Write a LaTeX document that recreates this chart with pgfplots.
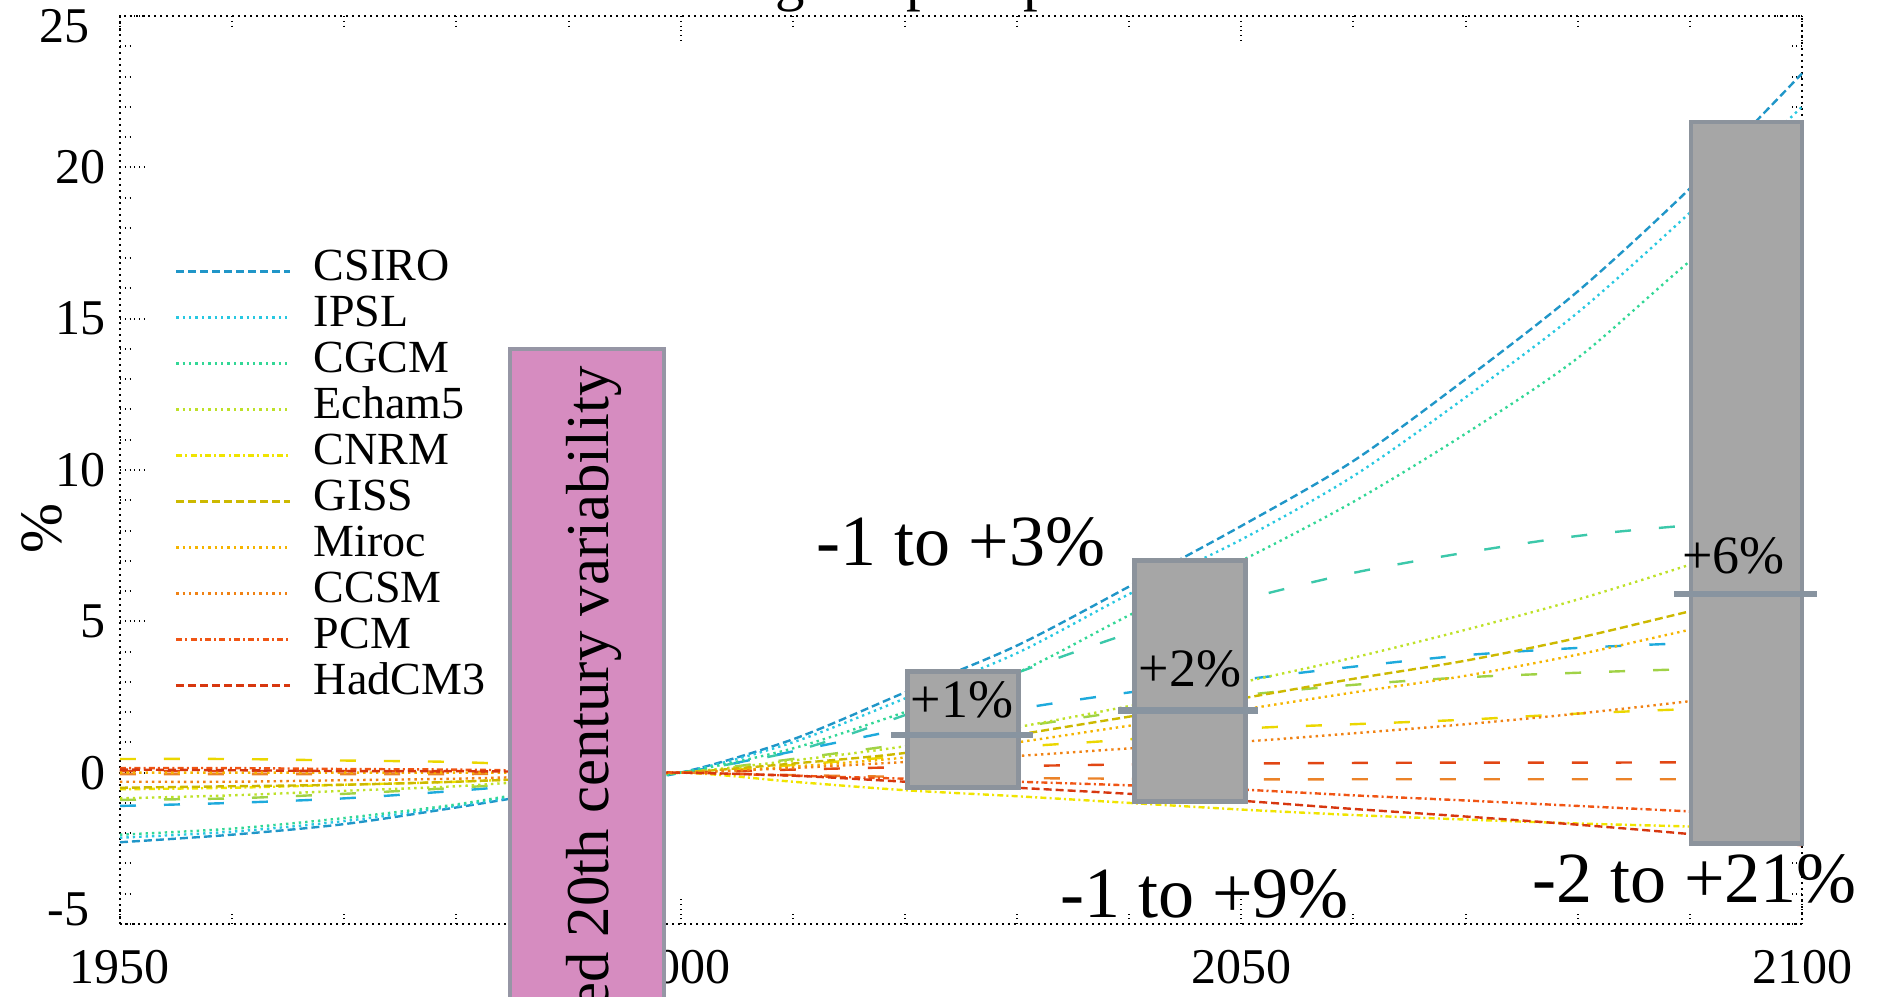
\documentclass[border=0pt]{standalone}
\usepackage{fontspec}
\setmainfont{Liberation Serif}
\usepackage{pgfplots}
\pgfplotsset{compat=1.18}
\definecolor{cCSIRO}{RGB}{32,150,200}
\definecolor{cIPSL}{RGB}{40,200,225}
\definecolor{cCGCM}{RGB}{50,215,150}
\definecolor{cEcham}{RGB}{190,225,40}
\definecolor{cCNRM}{RGB}{240,228,0}
\definecolor{cGISS}{RGB}{205,185,0}
\definecolor{cMiroc}{RGB}{245,180,0}
\definecolor{cCCSM}{RGB}{240,130,20}
\definecolor{cPCM}{RGB}{240,85,20}
\definecolor{cHad}{RGB}{215,55,15}
\definecolor{xA}{RGB}{60,200,170}
\definecolor{xB}{RGB}{30,170,220}
\definecolor{xC}{RGB}{160,210,70}
\definecolor{xD}{RGB}{235,215,0}
\definecolor{xE}{RGB}{225,70,20}
\definecolor{xF}{RGB}{235,130,40}
\definecolor{pinkfill}{RGB}{214,140,192}
\definecolor{pinkedge}{RGB}{150,150,165}
\definecolor{boxfill}{RGB}{166,166,166}
\definecolor{boxedge}{RGB}{140,147,156}
\definecolor{medline}{RGB}{136,148,160}
\begin{document}
\begin{tikzpicture}
\begin{axis}[
  scale only axis, width=420.5pt, height=227pt,
  xmin=1950, xmax=2100, ymin=-5, ymax=25,
  xtick={1950,2000,2050,2100}, minor x tick num=4,
  ytick={-5,0,5,10,15,20,25}, minor y tick num=4,
  yticklabels={,0,5,10,15,20,},
  /pgf/number format/1000 sep={},
  /pgf/number format/assume math mode=true,
  ticklabel style={font=\fontsize{12.5}{12.5}\selectfont},
  xticklabel style={yshift=-3pt},
  tick align=inside,
  major tick length=7pt, minor tick length=3.5pt,
  tick style={black, densely dotted, line width=0.5pt},
  axis line style={black, densely dotted, line width=0.5pt},
  ylabel={\%},
  ylabel style={at={(axis description cs:-0.0464,0.436)}, anchor=center, font=\fontsize{15}{15}\selectfont},
  clip=false,
  legend style={draw=none, fill=none, at={(axis cs:1954.8,17.34)}, anchor=north west, inner sep=0pt,
    font=\fontsize{11.5}{12}\selectfont, nodes={inner sep=0pt, text height=8pt, text depth=3.5pt}, column sep=5.5pt},
  legend cell align=left,
  legend image code/.code={\draw[#1, line width=0.8pt] (0pt,0pt) -- (28.5pt,0pt);},
  every axis plot/.append style={line width=0.6pt},
]
% ---- extra (unlabelled) runs ----
\addplot[xA, dash pattern=on 4pt off 7pt, smooth, forget plot] coordinates {(2000,0) (2010,0.7) (2020,1.9) (2030,3.3) (2040,4.6) (2050,5.7) (2060,6.6) (2070,7.27) (2080,7.82) (2090,8.17) (2100,8.4)};
\addplot[xB, dash pattern=on 4pt off 7pt, smooth, forget plot] coordinates {(1950,-1.1) (1960,-1.0) (1970,-0.85) (1980,-0.6) (1990,-0.3) (2000,0) (2010,0.7) (2020,1.45) (2030,2.1) (2040,2.65) (2050,3.07) (2060,3.5) (2070,3.88) (2080,4.12) (2090,4.28) (2100,4.4)};
\addplot[xC, dash pattern=on 4pt off 7pt, smooth, forget plot] coordinates {(1950,-0.9) (1960,-0.85) (1970,-0.7) (1980,-0.5) (1990,-0.25) (2000,0) (2010,0.45) (2020,0.95) (2030,1.5) (2040,2.05) (2050,2.55) (2060,2.9) (2070,3.15) (2080,3.3) (2090,3.42) (2100,3.5)};
\addplot[xD, dash pattern=on 4pt off 7pt, smooth, forget plot] coordinates {(1950,0.45) (1960,0.45) (1970,0.4) (1980,0.35) (1990,0.2) (2000,0) (2010,0.25) (2020,0.55) (2030,0.85) (2040,1.1) (2050,1.45) (2060,1.6) (2070,1.75) (2080,1.95) (2090,2.1) (2100,2.2)};
\addplot[xE, dash pattern=on 4pt off 7pt, smooth, forget plot] coordinates {(1950,0.05) (1960,0.05) (1970,0.05) (1980,0.03) (1990,0.02) (2000,0) (2010,0.1) (2020,0.18) (2030,0.22) (2040,0.27) (2050,0.3) (2060,0.32) (2070,0.33) (2080,0.33) (2090,0.34) (2100,0.35)};
\addplot[xF, dash pattern=on 4pt off 7pt, smooth, forget plot] coordinates {(1950,-0.05) (1960,-0.05) (1970,-0.05) (1980,-0.05) (1990,-0.02) (2000,0) (2010,-0.08) (2020,-0.14) (2030,-0.18) (2040,-0.2) (2050,-0.22) (2060,-0.22) (2070,-0.22) (2080,-0.22) (2090,-0.22) (2100,-0.22)};
% ---- models ----
\addplot[cCSIRO, dash pattern=on 2pt off 1pt, smooth] coordinates {(1950,-2.3) (1960,-2.05) (1970,-1.7) (1980,-1.15) (1990,-0.55) (2000,0) (2010,1.1) (2020,2.65) (2030,4.2) (2040,6.15) (2050,8.15) (2060,10.3) (2070,13.0) (2080,15.9) (2090,19.3) (2100,23.1)};
\addlegendentry{CSIRO}
\addplot[cIPSL, densely dotted, smooth] coordinates {(1950,-2.15) (1960,-1.95) (1970,-1.6) (1980,-1.1) (1990,-0.5) (2000,0) (2010,1.0) (2020,2.45) (2030,3.95) (2040,5.9) (2050,7.7) (2060,9.8) (2070,12.4) (2080,15.2) (2090,18.5) (2100,22.0)};
\addlegendentry{IPSL}
\addplot[cCGCM, densely dotted, smooth] coordinates {(1950,-2.05) (1960,-1.85) (1970,-1.5) (1980,-1.05) (1990,-0.45) (2000,0) (2010,0.8) (2020,2.0) (2030,3.3) (2040,5.2) (2050,7.0) (2060,8.95) (2070,11.2) (2080,13.7) (2090,16.9) (2100,19.8)};
\addlegendentry{CGCM}
\addplot[cEcham, densely dotted, smooth] coordinates {(1950,-0.85) (1960,-0.75) (1970,-0.6) (1980,-0.45) (1990,-0.2) (2000,0) (2010,0.4) (2020,0.87) (2030,1.5) (2040,2.2) (2050,2.98) (2060,3.8) (2070,4.72) (2080,5.72) (2090,6.87) (2100,8.1)};
\addlegendentry{Echam5}
\addplot[cCNRM, dash pattern=on 1.5pt off 0.8pt on 0.5pt off 0.8pt, smooth] coordinates {(1950,-0.55) (1960,-0.5) (1970,-0.4) (1980,-0.3) (1990,-0.15) (2000,0) (2010,-0.3) (2020,-0.58) (2030,-0.78) (2040,-1.0) (2050,-1.22) (2060,-1.4) (2070,-1.55) (2080,-1.68) (2090,-1.78) (2100,-1.9)};
\addlegendentry{CNRM}
\addplot[cGISS, dash pattern=on 2pt off 1pt, smooth] coordinates {(1950,-0.5) (1960,-0.45) (1970,-0.4) (1980,-0.3) (1990,-0.15) (2000,0) (2010,0.3) (2020,0.65) (2030,1.25) (2040,1.85) (2050,2.45) (2060,3.1) (2070,3.7) (2080,4.45) (2090,5.33) (2100,6.2)};
\addlegendentry{GISS}
\addplot[cMiroc, densely dotted, smooth] coordinates {(1950,0.0) (1960,0.0) (1970,0.0) (1980,0.0) (1990,0.0) (2000,0) (2010,0.2) (2020,0.5) (2030,1.0) (2040,1.55) (2050,2.08) (2060,2.65) (2070,3.2) (2080,3.9) (2090,4.72) (2100,5.5)};
\addlegendentry{Miroc}
\addplot[cCCSM, densely dotted, smooth] coordinates {(1950,-0.3) (1960,-0.3) (1970,-0.25) (1980,-0.2) (1990,-0.1) (2000,0) (2010,0.15) (2020,0.35) (2030,0.55) (2040,0.8) (2050,1.02) (2060,1.3) (2070,1.6) (2080,1.95) (2090,2.36) (2100,2.8)};
\addlegendentry{CCSM}
\addplot[cPCM, dash pattern=on 1.5pt off 0.8pt on 0.5pt off 0.8pt, smooth] coordinates {(1950,0.15) (1960,0.15) (1970,0.12) (1980,0.1) (1990,0.05) (2000,0) (2010,-0.1) (2020,-0.2) (2030,-0.3) (2040,-0.42) (2050,-0.56) (2060,-0.75) (2070,-0.92) (2080,-1.1) (2090,-1.28) (2100,-1.45)};
\addlegendentry{PCM}
\addplot[cHad, dash pattern=on 2pt off 1pt, smooth] coordinates {(1950,0.1) (1960,0.08) (1970,0.05) (1980,0.05) (1990,0.02) (2000,0) (2010,-0.1) (2020,-0.3) (2030,-0.5) (2040,-0.7) (2050,-0.93) (2060,-1.2) (2070,-1.45) (2080,-1.72) (2090,-2.03) (2100,-2.4)};
\addlegendentry{HadCM3}
% ---- range boxes ----
\draw[boxedge, line width=1.2pt, fill=boxfill] (axis cs:2020.2,-0.5) rectangle (axis cs:2030.1,3.33);
\draw[medline, line width=1.6pt] (axis cs:2018.8,1.25) -- (axis cs:2031.4,1.25);
\draw[boxedge, line width=1.2pt, fill=boxfill] (axis cs:2040.5,-0.96) rectangle (axis cs:2050.4,7.0);
\draw[medline, line width=1.6pt] (axis cs:2039.0,2.05) -- (axis cs:2051.5,2.05);
\draw[boxedge, line width=1.2pt, fill=boxfill] (axis cs:2090.1,-2.35) rectangle (axis cs:2100,21.5);
\draw[medline, line width=1.6pt] (axis cs:2088.6,5.9) -- (axis cs:2101.3,5.9);
\node[font=\fontsize{13.5}{13.5}\selectfont] at (axis cs:2025.1,2.41) {+1\%};
\node[font=\fontsize{13.5}{13.5}\selectfont] at (axis cs:2045.4,3.42) {+2\%};
\node[font=\fontsize{13.5}{13.5}\selectfont] at (axis cs:2093.9,7.15) {+6\%};
\node[font=\fontsize{18}{18}\selectfont] at (axis cs:2025.0,7.63) {-1 to +3\%};
\node[font=\fontsize{18}{18}\selectfont] at (axis cs:2046.7,-4.0) {-1 to +9\%};
\node[font=\fontsize{18}{18}\selectfont] at (axis cs:2090.4,-3.52) {-2 to +21\%};
\node[anchor=base, yshift=4.2pt, font=\fontsize{14.7}{14.7}\selectfont] at (axis cs:2022,25) {Change in precipitation};
% end labels of the y axis, set inward as in the reference
\node[anchor=east, xshift=-4.2pt, yshift=-2.6pt, font=\fontsize{12.5}{12.5}\selectfont] at (rel axis cs:0,1) {25};
\node[anchor=east, xshift=-4.2pt, yshift=3.6pt, font=\fontsize{12.5}{12.5}\selectfont] at (rel axis cs:0,0) {-5};
\coordinate (SW) at (rel axis cs:0,0);
\coordinate (NE) at (rel axis cs:1,1);
\coordinate (pinkSW) at (axis cs:1984.8,-10);
\coordinate (pinkNE) at (axis cs:1998.5,14);
\coordinate (pinkT) at (axis cs:1992.3,13.45);
\end{axis}
\draw[pinkedge, line width=1pt, fill=pinkfill] (pinkSW) rectangle (pinkNE);
\node[rotate=90, anchor=east, inner sep=0pt, font=\fontsize{15.2}{15.2}\selectfont] at (pinkT) {Observed 20th century variability};
\pgfresetboundingbox
\path[use as bounding box] ([xshift=-30pt,yshift=-18.25pt]SW) rectangle ([xshift=19.75pt,yshift=4pt]NE);
\end{tikzpicture}
\end{document}
